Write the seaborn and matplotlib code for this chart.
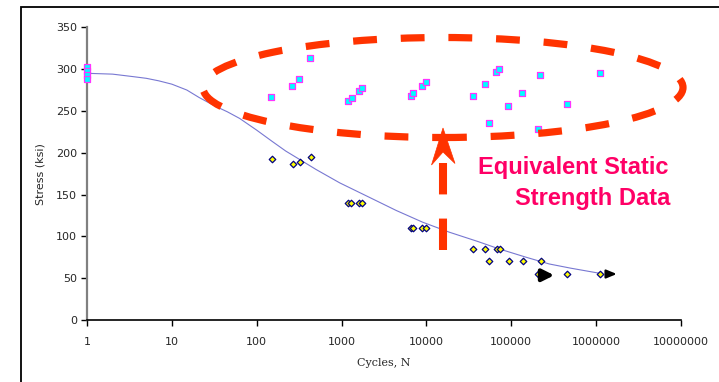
import numpy as np
import pandas as pd
import matplotlib
matplotlib.use("Agg")
import matplotlib.pyplot as plt
import seaborn as sns
from matplotlib.patches import Ellipse, Polygon, Rectangle
from matplotlib.lines import Line2D
from matplotlib.ticker import FixedLocator, FixedFormatter, NullLocator

# ---- data ----
square_N = [1, 1, 1, 1, 149, 263, 315, 428, 1186, 1311, 1585, 1718, 6600, 7030, 8820, 10000,
            35000, 48500, 54000, 66600, 72000, 92000, 135000, 208000, 220000, 455000, 1100000]
square_S = [303, 298, 293, 288, 267, 280, 288, 313, 262, 266, 274, 277, 268, 271, 280, 285,
            268, 282, 236, 296, 300, 256, 271, 228, 293, 258, 295]

diamond_N = [150, 265, 321, 432, 1200, 1277, 1600, 1718, 6540, 6920, 8800, 10000,
             35400, 49000, 67000, 72800, 54600, 93000, 136000, 224000, 206000, 459000, 1110000]
diamond_S = [193, 187, 189, 195, 140, 140, 140, 140, 110, 110, 110, 110,
             85, 85, 85, 85, 70, 70, 70, 70, 55, 55, 55]

curve_N = [1, 2, 3.5, 5, 7, 10, 15, 21, 32, 45, 63, 100, 150, 220, 320, 500, 950,
           2000, 4400, 9000, 18600, 40000, 72000, 150000, 280000, 500000, 1080000]
curve_S = [295, 294, 291, 289, 286, 282, 275, 266, 256, 249, 241, 227, 214, 202, 192, 180, 164,
           148, 131, 117, 105, 94, 85, 75, 67, 62, 56]

runout_N = [206000, 1110000]
runout_S = [55, 55]

x_ticks = [1, 10, 100, 1000, 10000, 100000, 1000000, 10000000]
x_labels = ["1", "10", "100", "1000", "10000", "100000", "1000000", "10000000"]
y_ticks = [0, 50, 100, 150, 200, 250, 300, 350]

# ---- figure ----
sns.set_style("white")
plt.rcParams['font.family'] = ['DejaVu Sans']
W, H = 719, 382
fig = plt.figure(figsize=(W / 100, H / 100), dpi=100)
ax = fig.add_axes([87 / W, 1 - 320 / H, (681 - 87) / W, (320 - 27.3) / H])

def fx(px):
    return px / W

def fy(py):
    return 1 - py / H

curve_df = pd.DataFrame({"N": curve_N, "S": curve_S})
sq_df = pd.DataFrame({"N": square_N, "S": square_S})
dm_df = pd.DataFrame({"N": diamond_N, "S": diamond_S})

sns.lineplot(data=curve_df, x="N", y="S", ax=ax, color="#7878d2", lw=0.8, sort=False, zorder=2)
sns.scatterplot(data=sq_df, x="N", y="S", ax=ax, marker="s", s=15, color="#00ffff",
                edgecolor="#ff33ff", linewidth=0.9, zorder=3, clip_on=False)
sns.scatterplot(data=dm_df, x="N", y="S", ax=ax, marker="D", s=11, color="#ffff00",
                edgecolor="#000080", linewidth=0.9, zorder=3)

ax.set_xscale("log")
ax.set_xlim(1, 1e7)
ax.set_ylim(0, 350)
ax.xaxis.set_major_locator(FixedLocator(x_ticks))
ax.xaxis.set_major_formatter(FixedFormatter(x_labels))
ax.xaxis.set_minor_locator(NullLocator())
ax.set_yticks(y_ticks)
ax.tick_params(axis="both", which="major", direction="out", length=4, width=1,
               color="black", labelsize=8, bottom=True, left=True, pad=3)
ax.tick_params(axis="x", pad=8)
for s in ["top", "right"]:
    ax.spines[s].set_visible(False)
ax.spines["left"].set_color("#808080")
ax.spines["left"].set_linewidth(1.6)
ax.spines["bottom"].set_color("black")
ax.spines["bottom"].set_linewidth(1.2)
ax.set_xlabel("Cycles, N", fontsize=8, labelpad=8, family="DejaVu Serif")
ax.set_ylabel("Stress (ksi)", fontsize=8, labelpad=8)
ax.patch.set_alpha(0)

# run-out arrows
ax.annotate("", xy=(runout_N[0] * 1.68, runout_S[0] - 1.5), xytext=(runout_N[0] * 1.1, runout_S[0] - 1.5),
            arrowprops=dict(arrowstyle="-|>,head_length=0.7,head_width=0.35", lw=3, color="black"))
ax.annotate("", xy=(runout_N[1] * 1.7, runout_S[1]), xytext=(runout_N[1] * 1.12, runout_S[1]),
            arrowprops=dict(arrowstyle="-|>,head_length=0.6,head_width=0.25", lw=1.6, color="black"))

# figure border (right and bottom edges lie outside the image)
fig.add_artist(Rectangle((fx(20.7), fy(420)), fx(760 - 20.7), fy(6.7) - fy(420),
                         transform=fig.transFigure, fill=False, ec="black", lw=1.3))

# dashed ellipse
red = "#ff3300"
ell = Ellipse((fx(443), fy(87.5)), fx(480), 100 / H, transform=fig.transFigure,
              fill=False, ec=red, lw=5.2, linestyle=(0, (3.3, 3.3)), zorder=5)
fig.add_artist(ell)

# dashed arrow shaft
shaft = Line2D([fx(443), fx(443)], [fy(250), fy(163)], transform=fig.transFigure,
               color=red, lw=5.8, linestyle=(0, (3.9, 3.0)), solid_capstyle="butt",
               dash_capstyle="butt")
fig.add_artist(shaft)
head = Polygon([(fx(443), fy(128)), (fx(455), fy(163.5)), (fx(443), fy(152)), (fx(431.5), fy(165))],
               closed=True, transform=fig.transFigure, fc=red, ec=red, lw=0.5)
fig.add_artist(head)

pink = "#ff0066"
fig.text(fx(669), fy(174), "Equivalent Static", ha="right", va="baseline", color=pink,
         fontsize=17, fontweight="bold", family="Liberation Sans")
fig.text(fx(670), fy(205), "Strength Data", ha="right", va="baseline", color=pink,
         fontsize=17, fontweight="bold", family="Liberation Sans")

fig.savefig("out.png", dpi=100)
